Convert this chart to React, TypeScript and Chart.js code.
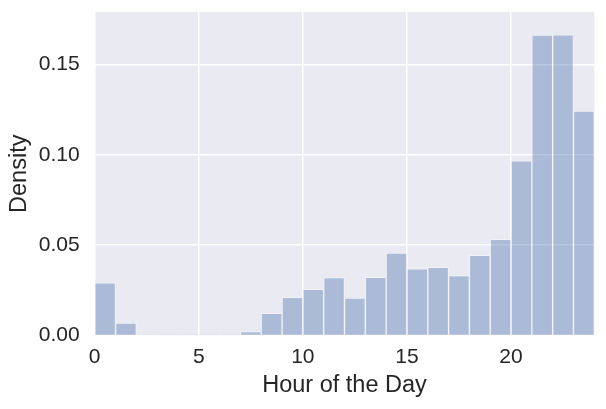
import React, { useEffect, useRef } from "react";
import { Chart, registerables } from "chart.js";

Chart.register(...registerables);

const binStarts = [0, 1, 2, 3, 4, 5, 6, 7, 8, 9, 10, 11, 12, 13, 14, 15, 16, 17, 18, 19, 20, 21, 22, 23];
const density = [
  0.0292, 0.0069, 0.0004, 0.0003, 0.0002, 0.0002, 0.0003, 0.0021,
  0.0123, 0.0211, 0.0256, 0.032, 0.0207, 0.0322, 0.0456, 0.0369,
  0.0377, 0.0331, 0.0444, 0.0532, 0.0967, 0.1662, 0.1664, 0.1242,
];
const xTicks = [0, 5, 10, 15, 20];
const yTicks = [0, 0.05, 0.1, 0.15];
const xTitle = "Hour of the Day";
const yTitle = "Density";

const FONT = "'Liberation Sans', Arial, sans-serif";
const TEXT = "#262626";

const bgPlugin = {
  id: "plotBg",
  beforeDraw(chart: any) {
    const { ctx, chartArea } = chart;
    if (!chartArea) return;
    ctx.save();
    ctx.fillStyle = "#EAEAF2";
    ctx.fillRect(chartArea.left, chartArea.top, chartArea.right - chartArea.left, chartArea.bottom - chartArea.top);
    ctx.restore();
  },
};

export default function App() {
  const ref = useRef<HTMLCanvasElement | null>(null);
  useEffect(() => {
    if (!ref.current) return;
    const chart = new Chart(ref.current, {
      type: "bar",
      data: {
        datasets: [
          {
            data: binStarts.map((b, i) => ({ x: b + 0.5, y: density[i] })),
            backgroundColor: "rgba(76,114,176,0.4)",
            borderColor: "rgba(255,255,255,0.35)",
            borderWidth: 1,
            barPercentage: 1,
            categoryPercentage: 1,
          },
        ],
      },
      options: {
        animation: false,
        responsive: false,
        maintainAspectRatio: false,
        layout: { padding: { top: 12, right: 11.7, left: 0, bottom: 0 } },
        plugins: { legend: { display: false }, tooltip: { enabled: false } },
        scales: {
          x: {
            type: "linear",
            min: 0,
            max: 24,
            offset: false,
            afterFit: (s: any) => {
              s.height = 73.5;
              s.paddingLeft = 0;
              s.paddingRight = 0;
            },
            afterBuildTicks: (s: any) => {
              s.ticks = xTicks.map((v) => ({ value: v }));
            },
            ticks: {
              padding: 9,
              color: TEXT,
              font: { family: FONT, size: 21 },
              callback: (v: any) => String(v),
              maxRotation: 0,
            },
            grid: { color: "#FFFFFF", lineWidth: 1.5, drawTicks: false, offset: false },
            border: { display: false },
            title: {
              display: true,
              text: xTitle,
              color: TEXT,
              font: { family: FONT, size: 23.5 },
              padding: { top: 0, bottom: 9 },
            },
          },
          y: {
            type: "linear",
            min: 0,
            max: 0.179,
            afterFit: (s: any) => {
              s.width = 94.7;
              s.paddingTop = 0;
              s.paddingBottom = 0;
            },
            afterBuildTicks: (s: any) => {
              s.ticks = yTicks.map((v) => ({ value: v }));
            },
            ticks: {
              padding: 15,
              color: TEXT,
              font: { family: FONT, size: 21 },
              callback: (v: any) => Number(v).toFixed(2),
            },
            grid: { color: "#FFFFFF", lineWidth: 1.5, drawTicks: false },
            border: { display: false },
            title: {
              display: true,
              text: yTitle,
              color: TEXT,
              font: { family: FONT, size: 23.5 },
              padding: { top: 5, bottom: 5 },
            },
          },
        },
      },
      plugins: [bgPlugin],
    });
    return () => chart.destroy();
  }, []);
  return (
    <div style={{ position: "fixed", left: 0, top: 0, width: 606, height: 409, background: "#FFFFFF" }}>
      <canvas ref={ref} width={606} height={409} style={{ width: 606, height: 409, display: "block" }} />
    </div>
  );
}
